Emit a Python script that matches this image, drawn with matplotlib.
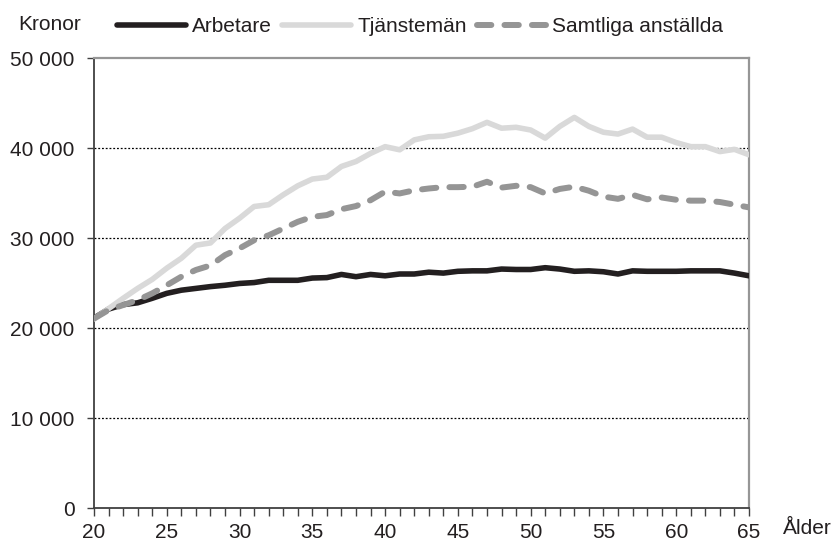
import numpy as np
import matplotlib
matplotlib.use("Agg")
import matplotlib.pyplot as plt
from matplotlib.ticker import FuncFormatter

plt.rcParams['font.family'] = ['Liberation Sans', 'DejaVu Sans']

# data (kronor per month by age)
ages = list(range(20, 66))

arbetare = [21100, 22100, 22600, 22800, 23300, 23850, 24200, 24400, 24600, 24750,
            24950, 25050, 25300, 25300, 25300, 25550, 25600, 25950, 25700, 25950,
            25800, 26000, 26000, 26200, 26100, 26300, 26350, 26350, 26550, 26500,
            26500, 26700, 26550, 26300, 26350, 26250, 26000, 26350, 26300, 26300,
            26300, 26350, 26350, 26350, 26100, 25800]

tjanstemen = [21000, 22150, 23300, 24400, 25400, 26650, 27750, 29200, 29450, 31050,
              32200, 33500, 33700, 34800, 35800, 36550, 36750, 37950, 38500, 39400,
              40150, 39800, 40900, 41250, 41300, 41650, 42150, 42850, 42200, 42300,
              42000, 41100, 42400, 43400, 42400, 41750, 41550, 42100, 41200, 41200,
              40600, 40150, 40150, 39600, 39850, 39250]

samtliga = [21050, 22000, 22550, 23100, 23850, 24750, 25700, 26450, 26950, 28100,
            28850, 29750, 30300, 31050, 31800, 32350, 32550, 33200, 33550, 34200,
            35150, 34950, 35300, 35500, 35650, 35650, 35700, 36250, 35600, 35800,
            35650, 34950, 35450, 35700, 35250, 34600, 34350, 34800, 34300, 34500,
            34250, 34150, 34150, 34000, 33700, 33400]

series_names = ['Arbetare', 'Tjänstemän', 'Samtliga anställda']
y_ticks = [0, 10000, 20000, 30000, 40000, 50000]

fig = plt.figure(figsize=(8.35, 5.44), dpi=100)
ax = fig.add_axes([94 / 835, 1 - 508 / 544, 655 / 835, 450 / 544])

fs = 15
ax.plot(ages, arbetare, color='#231f20', lw=4, solid_capstyle='round',
        solid_joinstyle='round', label=series_names[0], zorder=3)
ax.plot(ages, tjanstemen, color='#d9d9d9', lw=4, solid_capstyle='round',
        solid_joinstyle='round', label=series_names[1], zorder=3)
ax.plot(ages, samtliga, color='#959595', lw=4.3, dashes=(2.4, 2.2),
        dash_capstyle='round', label=series_names[2], zorder=4)

ax.set_xlim(20, 65)
ax.set_ylim(0, 50000)

# dotted gridlines
for v in y_ticks[1:-1]:
    ax.axhline(v, color='black', lw=0.9, ls=(0, (1.5, 1.5)), zorder=1)

ax.set_yticks(y_ticks)
ax.yaxis.set_major_formatter(FuncFormatter(lambda v, p: f"{int(v):,}".replace(',', ' ')))
ax.set_xticks(ages)
ax.set_xticklabels([str(a) if a % 5 == 0 else '' for a in ages])

ax.tick_params(axis='y', direction='out', length=5, width=1, color='#404040',
               pad=9, labelsize=fs, labelcolor='#231f20')
ax.tick_params(axis='x', direction='out', length=6, width=1, color='#404040',
               pad=5, labelsize=fs, labelcolor='#231f20')

for s in ['left', 'bottom']:
    ax.spines[s].set_color('#404040')
    ax.spines[s].set_linewidth(1.3)
for s in ['top', 'right']:
    ax.spines[s].set_color('#969696')
    ax.spines[s].set_linewidth(1.6)

fig.text(18 / 835, 1 - 25 / 544, 'Kronor', fontsize=fs, color='#231f20',
         ha='left', va='center')
fig.text(832 / 835, 1 - 528 / 544, 'Ålder', fontsize=fs, color='#231f20',
         ha='right', va='center')

fig.legend(loc='center left', bbox_to_anchor=(117 / 835, 1 - 27 / 544),
           ncol=3, frameon=False, fontsize=fs, handlelength=3.3,
           handletextpad=0.3, columnspacing=0.5, borderpad=0, borderaxespad=0,
           labelcolor='#231f20')

fig.savefig('out.png', dpi=100)
